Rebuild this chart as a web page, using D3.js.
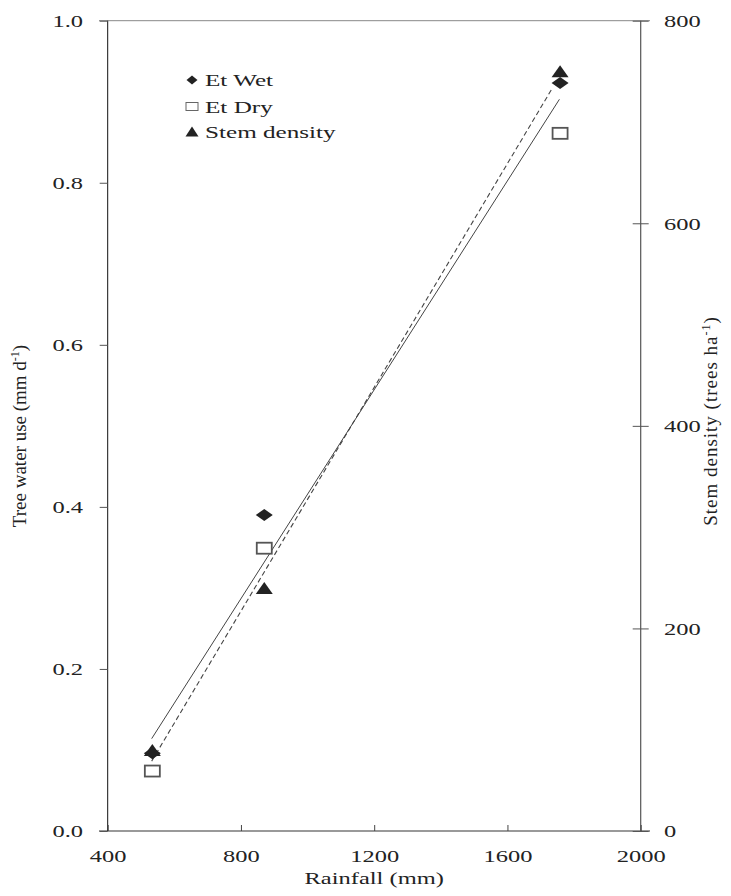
<!DOCTYPE html>
<html><head><meta charset="utf-8">
<script src="https://cdn.jsdelivr.net/npm/d3@7"></script>
<style>body{margin:0;background:#fff}svg{display:block}</style>
</head><body>
<svg id="c" width="731" height="896"></svg>
<script>
// ---- data ----
const rainfall = [534, 870, 1758];
const etWet = [0.096, 0.390, 0.923];
const etDry = [0.074, 0.349, 0.861];
const stemDensity = [80, 240, 750];
// trend lines: mean Et fit (left axis), stem density fit (right axis)
const etTrendX = [532, 1756];
const etTrendY = [0.114, 0.903];
const stemTrendX = [532, 1734];
const stemTrendY = [69, 733];
const xTicks = [400, 800, 1200, 1600, 2000];
const yLeftTicks = [0.0, 0.2, 0.4, 0.6, 0.8, 1.0];
const yRightTicks = [0, 200, 400, 600, 800];
const legendLabels = ["Et Wet", "Et Dry", "Stem density"];

const svg = d3.select("#c");
const L = 107.7, R = 640.7, T = 20.7, B = 831;
const x = d3.scaleLinear().domain([400, 2000]).range([L, R]);
const yL = d3.scaleLinear().domain([0, 1]).range([B, T]);
const yR = d3.scaleLinear().domain([0, 800]).range([B, T]);
const SX = 1.4;
const font = "Liberation Serif, Times New Roman, serif";
const ink = "#222";

// frame lines
svg.append("line").attr("x1", 99).attr("x2", 650).attr("y1", T).attr("y2", T)
  .attr("stroke", "#888").attr("stroke-width", 1);
svg.append("line").attr("x1", 99).attr("x2", 650).attr("y1", B).attr("y2", B)
  .attr("stroke", "#999").attr("stroke-width", 2.2);
svg.append("line").attr("x1", L).attr("x2", L).attr("y1", T).attr("y2", B)
  .attr("stroke", "#111").attr("stroke-width", 1);
svg.append("line").attr("x1", R).attr("x2", R).attr("y1", T).attr("y2", B)
  .attr("stroke", "#555").attr("stroke-width", 1.2);

// left axis
const gl = svg.append("g").attr("transform", `translate(${L},0)`)
  .call(d3.axisLeft(yL).tickValues(yLeftTicks).tickSize(8).tickFormat(d3.format(".1f")));
gl.attr("font-family", font);
gl.select(".domain").remove();
gl.selectAll(".tick line").attr("stroke", "#555");
gl.selectAll(".tick text").attr("x", -24.7 / SX).attr("dy", "0.33em")
  .attr("transform", `scale(${SX},1)`).attr("font-family", font).attr("font-size", 17.5).attr("fill", ink);

// right axis
const gr = svg.append("g").attr("transform", `translate(${R},0)`)
  .call(d3.axisRight(yR).tickValues(yRightTicks).tickSize(8).tickFormat(d3.format("d")));
gr.attr("font-family", font);
gr.select(".domain").remove();
gr.selectAll(".tick line").attr("x1", -8).attr("x2", 8).attr("stroke", "#555");
gr.selectAll(".tick text").attr("x", 23.3 / SX).attr("dy", "0.33em")
  .attr("transform", `scale(${SX},1)`).attr("font-family", font).attr("font-size", 17.5).attr("fill", ink);

// bottom axis
const gb = svg.append("g").attr("transform", `translate(0,${B})`)
  .call(d3.axisBottom(x).tickValues(xTicks).tickSizeInner(-6).tickSizeOuter(0).tickFormat(d3.format("d")));
gb.attr("font-family", font);
gb.select(".domain").remove();
gb.selectAll(".tick line").attr("stroke", "#444");
gb.selectAll(".tick text").attr("x", 0).attr("y", 31).attr("dy", 0)
  .attr("transform", `scale(${SX},1)`).attr("font-family", font).attr("font-size", 17.5).attr("fill", ink);

// axis titles
svg.append("text").attr("transform", `translate(${(L + R) / 2},884) scale(${SX},1)`)
  .attr("text-anchor", "middle").attr("font-family", font).attr("font-size", 17.5).attr("fill", ink)
  .text("Rainfall (mm)");

const lt = svg.append("text").attr("transform", "translate(26,436) rotate(-90)")
  .attr("text-anchor", "middle").attr("font-family", font).attr("font-size", 19).attr("fill", ink);
lt.append("tspan").text("Tree water use (mm d");
lt.append("tspan").attr("font-size", 12).attr("baseline-shift", "super").text("-1");
lt.append("tspan").text(")");

const rt = svg.append("text").attr("transform", "translate(717,421) rotate(-90)")
  .attr("text-anchor", "middle").attr("font-family", font).attr("font-size", 19).attr("fill", ink)
  .attr("letter-spacing", 1);
rt.append("tspan").text("Stem density (trees ha");
rt.append("tspan").attr("font-size", 12).attr("baseline-shift", "super").text("-1");
rt.append("tspan").text(")");

// trend lines
const lineL = d3.line().x(d => x(d[0])).y(d => yL(d[1]));
const lineR = d3.line().x(d => x(d[0])).y(d => yR(d[1]));
svg.append("path").datum(d3.zip(etTrendX, etTrendY)).attr("d", lineL)
  .attr("fill", "none").attr("stroke", "#444").attr("stroke-width", 1);
svg.append("path").datum(d3.zip(stemTrendX, stemTrendY)).attr("d", lineR)
  .attr("fill", "none").attr("stroke", "#444").attr("stroke-width", 1.1).attr("stroke-dasharray", "5,3");

// marker shapes
const diamond = (w, h) => `M0,${-h/2}L${w/2},0L0,${h/2}L${-w/2},0Z`;
const tri = (w, h) => `M0,${-h/2}L${w/2},${h/2}L${-w/2},${h/2}Z`;

// points
svg.selectAll(".wet").data(d3.zip(rainfall, etWet)).join("path")
  .attr("transform", d => `translate(${x(d[0])},${yL(d[1])})`)
  .attr("d", diamond(17, 12)).attr("fill", "#222");
svg.selectAll(".dry").data(d3.zip(rainfall, etDry)).join("rect")
  .attr("x", d => x(d[0]) - 7.5).attr("y", d => yL(d[1]) - 5.5)
  .attr("width", 15).attr("height", 11)
  .attr("fill", "#fff").attr("stroke", "#555").attr("stroke-width", 1.8);
svg.selectAll(".stem").data(d3.zip(rainfall, stemDensity)).join("path")
  .attr("transform", d => `translate(${x(d[0])},${yR(d[1])})`)
  .attr("d", tri(17, 12)).attr("fill", "#222");

// legend
const lg = svg.append("g");
const ly = [80, 106.5, 131.5];
lg.append("path").attr("transform", `translate(192,${ly[0]})`).attr("d", diamond(11, 9)).attr("fill", "#222");
lg.append("rect").attr("x", 186).attr("y", ly[1] - 4).attr("width", 12).attr("height", 8)
  .attr("fill", "#fff").attr("stroke", "#666").attr("stroke-width", 1);
lg.append("path").attr("transform", `translate(192,${ly[2]})`).attr("d", tri(13, 10)).attr("fill", "#222");
lg.selectAll("text.lab").data(legendLabels).join("text")
  .attr("transform", (d, i) => `translate(205,${ly[i] + 6}) scale(1.48,1)`)
  .attr("font-family", font).attr("font-size", 17).attr("fill", ink).text(d => d);
</script>
</body></html>
